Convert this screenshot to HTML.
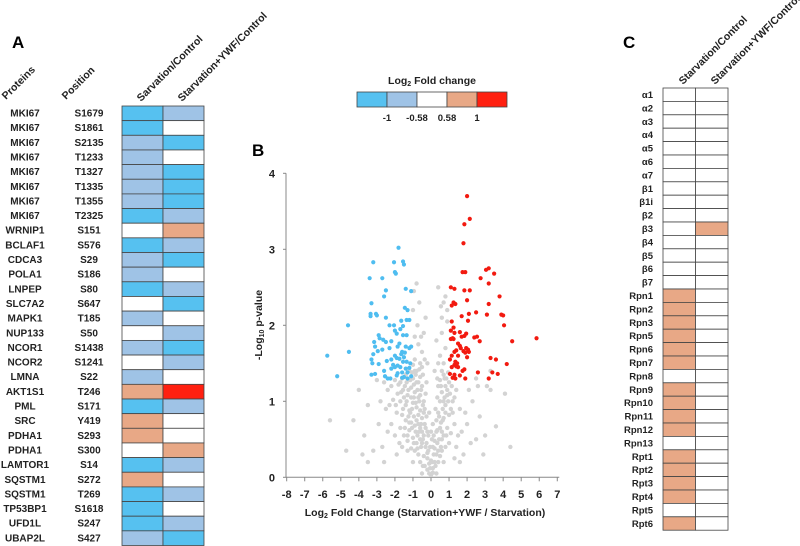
<!DOCTYPE html>
<html><head><meta charset="utf-8">
<style>
body{margin:0;background:#fff;}
svg{display:block;font-family:"Liberation Sans",sans-serif;}
.b{font-weight:bold;}
</style></head>
<body>
<svg id="fig" width="800" height="546" viewBox="0 0 800 546">
  <text x="12" y="48" font-size="17" class="b">A</text>
  <text x="252" y="156" font-size="17" class="b">B</text>
  <text x="623" y="48" font-size="17" class="b">C</text>
  <g id="panelA"></g>
  <g id="legend"></g>
  <g id="volcano"></g>
  <g id="panelC"></g>
</svg>
<script>
const NS="http://www.w3.org/2000/svg";
const COL={D:"#56c1f0",L:"#9fc3e6",W:"#ffffff",S:"#e8a886",R:"#ff2010"};
// Panel A data
const aProteins=["MKI67","MKI67","MKI67","MKI67","MKI67","MKI67","MKI67","MKI67","WRNIP1","BCLAF1","CDCA3","POLA1","LNPEP","SLC7A2","MAPK1","NUP133","NCOR1","NCOR2","LMNA","AKT1S1","PML","SRC","PDHA1","PDHA1","LAMTOR1","SQSTM1","SQSTM1","TP53BP1","UFD1L","UBAP2L"];
const aPositions=["S1679","S1861","S2135","T1233","T1327","T1335","T1355","T2325","S151","S576","S29","S186","S80","S647","T185","S50","S1438","S1241","S22","T246","S171","Y419","S293","S300","S14","S272","T269","S1618","S247","S427"];
const aStarv=["D","D","L","L","L","L","L","D","W","D","L","L","D","W","L","W","L","W","L","S","D","S","S","W","D","S","D","D","D","L"];
const aYwf=["L","W","D","W","D","D","D","L","S","L","D","W","L","D","W","L","D","L","W","R","L","W","W","S","L","W","L","W","L","D"];
// Panel C data
const cSubunits=["α1","α2","α3","α4","α5","α6","α7","β1","β1i","β2","β3","β4","β5","β6","β7","Rpn1","Rpn2","Rpn3","Rpn5","Rpn6","Rpn7","Rpn8","Rpn9","Rpn10","Rpn11","Rpn12","Rpn13","Rpt1","Rpt2","Rpt3","Rpt4","Rpt5","Rpt6"];
const cStarv=["W","W","W","W","W","W","W","W","W","W","W","W","W","W","W","S","S","S","S","S","S","W","S","S","S","S","W","S","S","S","S","W","S"];
const cYwf=["W","W","W","W","W","W","W","W","W","W","S","W","W","W","W","W","W","W","W","W","W","W","W","W","W","W","W","W","W","W","W","W","W"];
// Legend
const legendColors=["D","L","W","S","R"];
const legendTicks=["-1","-0.58","0.58","1"];
// Volcano data [log2FC, -log10 p]
const redPts=[[2.0,3.7],[2.15,3.4],[1.85,3.33],[1.8,3.08],[1.75,2.7],[1.9,2.7],[2.15,2.46],[1.85,2.46],[3.2,2.75],[3.05,2.73],[3.5,2.68],[2.75,2.62],[3.2,2.55],[1.1,2.5],[1.3,2.48],[2.0,2.33],[1.25,2.3],[1.35,2.28],[3.2,2.28],[3.8,2.38],[1.15,2.26],[4.0,2.13],[2.5,2.17],[3.1,2.14],[2.1,2.15],[1.7,2.12],[3.9,2.14],[1.15,2.05],[2.05,2.06],[4.05,2.0],[1.25,1.97],[1.1,1.93],[1.3,1.9],[1.6,1.91],[1.95,1.89],[2.55,1.85],[2.4,1.84],[1.7,1.85],[1.85,1.86],[1.2,1.83],[1.25,1.82],[1.1,1.82],[2.7,1.79],[4.5,1.79],[5.85,1.83],[1.5,1.76],[1.6,1.73],[1.65,1.7],[1.95,1.7],[2.05,1.68],[1.4,1.67],[1.8,1.66],[1.9,1.64],[2.1,1.65],[1.3,1.65],[1.5,1.6],[1.15,1.6],[2.0,1.58],[3.3,1.57],[3.6,1.55],[1.05,1.55],[1.35,1.52],[1.45,1.5],[1.3,1.48],[1.4,1.46],[1.5,1.45],[4.2,1.49],[1.15,1.45],[1.85,1.42],[1.75,1.4],[2.6,1.38],[3.4,1.38],[3.7,1.36],[1.05,1.36],[1.3,1.35],[1.2,1.31],[1.35,1.3],[1.9,1.3],[3.2,1.3],[1.6,1.34]];
const bluePts=[[-1.8,3.02],[-2.7,2.62],[-2.0,2.7],[-1.55,2.84],[-1.5,2.8],[-2.05,2.83],[-3.2,2.83],[-3.4,2.62],[-1.95,2.68],[-2.5,2.46],[-2.6,2.38],[-1.4,2.48],[-1.1,2.45],[-3.3,2.29],[-3.35,2.15],[-3.35,2.12],[-3.05,2.15],[-3.0,2.13],[-1.45,2.23],[-1.3,2.2],[-2.5,2.1],[-1.65,2.06],[-1.35,2.07],[-1.2,2.07],[-2.3,2.0],[-2.05,2.0],[-4.6,2.0],[-2.0,1.93],[-1.7,1.95],[-1.55,1.99],[-1.9,1.89],[-1.55,1.87],[-1.35,1.87],[-2.9,1.87],[-2.85,1.83],[-2.65,1.81],[-2.5,1.78],[-3.15,1.78],[-3.1,1.72],[-2.2,1.79],[-1.75,1.76],[-1.4,1.72],[-1.1,1.72],[-1.2,1.7],[-2.3,1.7],[-1.85,1.72],[-2.7,1.68],[-4.55,1.65],[-2.95,1.66],[-3.2,1.62],[-1.6,1.65],[-1.45,1.64],[-1.65,1.62],[-2.0,1.6],[-1.9,1.57],[-1.5,1.58],[-1.75,1.56],[-5.75,1.6],[-3.3,1.55],[-2.45,1.53],[-2.2,1.55],[-1.55,1.52],[-1.35,1.52],[-1.15,1.5],[-3.25,1.5],[-2.9,1.49],[-2.1,1.48],[-1.85,1.47],[-1.7,1.45],[-1.4,1.43],[-1.2,1.44],[-2.2,1.43],[-2.0,1.45],[-2.6,1.4],[-1.6,1.38],[-1.3,1.38],[-1.85,1.37],[-3.3,1.35],[-3.1,1.36],[-2.55,1.33],[-1.5,1.32],[-1.1,1.33],[-1.3,1.3],[-2.4,1.3],[-2.25,1.3],[-5.2,1.33],[-1.9,1.34],[-1.6,1.31]];
const grayPts=[[-0.2,0.1],[0.1,0.12],[-0.45,0.15],[0.25,0.15],[-0.1,0.18],[0.4,0.2],[-0.6,0.2],[0,0.22],[0,0.03],[-0.1,0.05],[0.1,0.06],[-0.7,0.3],[-0.4,0.28],[-0.9,0.35],[0.3,0.3],[0.5,0.28],[0.6,0.35],[-0.2,0.32],[-1.1,0.38],[0.8,0.4],[-0.55,0.4],[0.2,0.38],[-0.8,0.45],[1.0,0.45],[-1.3,0.48],[-0.6,0.5],[-1.0,0.52],[0.45,0.5],[0.7,0.55],[-0.4,0.55],[-1.5,0.55],[-0.85,0.6],[1.1,0.58],[-1.2,0.62],[0.35,0.62],[-0.3,0.65],[0.9,0.65],[-1.7,0.65],[-2.0,0.55],[1.5,0.55],[-0.7,0.7],[-1.1,0.72],[0.55,0.72],[1.3,0.7],[-1.4,0.75],[-0.5,0.78],[0.7,0.78],[-2.2,0.7],[2.0,0.7],[-0.95,0.8],[-1.6,0.82],[1.0,0.82],[0.4,0.85],[-0.6,0.88],[-1.2,0.88],[-1.9,0.85],[1.6,0.9],[-2.5,0.9],[-0.8,0.92],[0.8,0.95],[-1.4,0.95],[-1.0,0.98],[0.5,1.0],[-0.4,1.0],[-1.7,1.0],[1.2,1.0],[-2.1,1.02],[-2.8,1.0],[2.3,1.0],[-0.7,1.05],[-1.3,1.08],[0.9,1.08],[-0.9,1.12],[0.6,1.12],[-1.55,1.15],[-2.4,1.15],[1.4,1.15],[-1.1,1.18],[-0.5,1.2],[0.8,1.2],[-1.8,1.22],[2.6,1.2],[-1.35,1.25],[-0.8,1.25],[1.0,1.25],[-2.0,1.28],[0.5,1.28],[-1.0,1.3],[-0.6,1.32],[0.7,1.35],[-1.6,1.3],[-3.0,1.28],[3.3,1.15],[4.1,1.1],[-3.7,0.55],[-3.2,0.35],[-2.7,0.4],[-4.3,0.75],[-4.0,1.15],[-5.6,0.75],[-3.5,0.95],[2.5,0.5],[2.9,0.3],[3.6,0.67],[2.2,0.45],[1.8,0.3],[-1.9,0.3],[-2.6,0.2],[1.3,0.25],[-0.8,1.4],[-0.6,1.5],[-0.9,1.55],[-0.5,1.65],[-0.7,1.75],[-0.4,1.9],[-0.9,1.85],[-0.3,2.1],[-1.0,2.2],[-0.8,2.55],[0.3,1.8],[0.5,1.6],[0.7,1.5],[0.6,1.4],[0.8,1.7],[0.9,2.05],[0.6,2.1],[0.8,2.38],[0.4,2.5],[0.9,2.2],[0.2,1.4],[-0.2,1.5],[3.3,1.4],[3.1,1.2],[2.5,1.3],[-0.3,0.4],[-0.5,0.45],[0.2,0.48],[-0.15,0.55],[0.1,0.7],[-0.25,0.8],[-0.65,1.0],[-0.45,0.95],[-0.9,1.4],[-1.2,1.4],[0.3,0.6],[0.6,0.6],[-0.75,0.55],[-0.35,0.7],[-0.6,0.65],[-1.25,0.8],[-0.85,1.35],[-1.45,1.2],[-1.1,1.05],[0.65,0.9],[0.9,1.15],[0.4,1.2],[0.75,1.05],[1.1,0.9],[-1.5,1.05],[-0.55,1.15],[-0.2,0.25],[0.15,0.3],[-0.05,0.4],[0.05,0.5],[-0.4,0.85],[-0.7,0.82],[-1.05,0.65],[-1.3,0.55],[0.55,0.4],[0.85,0.55],[1.2,0.85],[-2.3,0.95],[-1.75,0.45],[1.7,0.6],[-0.95,1.22],[-1.15,1.28],[-0.75,1.15],[-1.05,0.9],[-0.5,0.6],[0.25,0.9],[0.35,1.05],[0.75,1.3],[-0.3,1.1],[-1.65,1.12],[-0.35,0.15],[0.2,0.2],[-0.25,0.45],[-0.65,0.6],[-0.9,0.68],[-1.15,0.85],[-1.35,1.0],[-1.25,1.15],[-0.95,1.05],[-0.8,0.75],[-0.55,0.7],[-0.45,0.5],[-0.15,0.35],[0.35,0.45],[0.5,0.65],[0.65,0.75],[0.8,0.85],[0.95,1.0],[1.05,1.1],[0.85,1.3],[0.55,1.2],[-1.4,1.35],[-1.7,1.25],[-1.05,1.38],[-0.7,1.25],[-0.45,1.35],[-1.55,0.9],[-0.35,0.9],[-0.2,0.6],[0.1,0.4],[0.05,0.2],[-0.05,0.12],[0.15,0.55],[0.45,0.8],[0.7,1.0],[1.15,1.2],[1.3,1.05],[-1.85,1.1],[-1.95,0.95],[-2.2,1.2],[-0.6,1.08],[-0.85,0.98],[-1.2,0.72],[-0.95,0.45],[-1.45,0.65],[0.3,0.75],[0.6,0.5],[0.4,0.35],[-0.75,0.38],[-0.65,1.42],[-1.0,1.48],[-0.5,1.45],[0.35,1.3],[0.95,1.38],[-0.25,1.25],[-1.3,0.35],[-2.4,0.6],[-1.6,0.4],[1.4,0.4],[1.9,0.85],[2.1,1.15],[-2.6,1.25],[-0.1,0.85],[0.0,0.6],[-0.35,1.55],[0.4,1.5],[-0.55,1.85],[0.6,1.9],[-0.75,2.0],[0.7,2.3],[-0.65,2.3],[0.55,2.25],[-0.95,2.45],[-3.5,0.2],[-2.9,0.7],[2.7,0.8],[3.0,0.55],[4.4,0.4],[-4.7,0.35],[-3.8,0.3],[1.6,0.2],[-1.0,0.2],[0.7,0.2],[-0.5,0.05],[0.3,0.05]];
const xTicks=[-8,-7,-6,-5,-4,-3,-2,-1,0,1,2,3,4,5,6,7];
const yTicks=[0,1,2,3,4];

function el(tag,attrs,parent,text){const e=document.createElementNS(NS,tag);for(const k in attrs)e.setAttribute(k,attrs[k]);if(text!==undefined)e.textContent=text;parent.appendChild(e);return e;}

// Panel A
const A=document.getElementById('panelA');
const aTop=106, aRow=14.65, aX0=122, aW=41;
[["Proteins",6,100],["Position",66,100],["Sarvation/Control",141,102],["Starvation+YWF/Control",182,102]].forEach((h,i)=>{
  const t=el('text',{x:h[1],y:h[2],'font-size':10.5,class:'b',transform:`rotate(-45 ${h[1]} ${h[2]})`,fill:'#222'},A,h[0]);
  
  
});
aProteins.forEach((p,i)=>{
  const y=aTop+i*aRow;
  const t1=el('text',{x:25,y:y+10.5,'font-size':10,class:'b','text-anchor':'middle',fill:'#222'},A,p);
  
  
  const t2=el('text',{x:89,y:y+10.5,'font-size':10,class:'b','text-anchor':'middle',fill:'#222'},A,aPositions[i]);
  
  
  const r1=el('rect',{x:aX0,y:y,width:aW,height:aRow,fill:COL[aStarv[i]],stroke:'#444','stroke-width':0.8},A);
  
  
  const r2=el('rect',{x:aX0+aW,y:y,width:aW,height:aRow,fill:COL[aYwf[i]],stroke:'#444','stroke-width':0.8},A);
  
  
});

// Legend
const L=document.getElementById('legend');
const lt=el('text',{x:432,y:84,'font-size':10.5,class:'b','text-anchor':'middle',fill:'#222'},L);


lt.innerHTML='Log<tspan font-size="7" dy="2">2</tspan><tspan dy="-2"> Fold change</tspan>';
legendColors.forEach((c,i)=>{
  const r=el('rect',{x:357+i*30,y:92,width:30,height:15,fill:COL[c],stroke:'#444','stroke-width':0.8},L);
  
  
});
legendTicks.forEach((t,i)=>{
  const tx=el('text',{x:387+i*30,y:121,'font-size':9.5,class:'b','text-anchor':'middle',fill:'#222'},L,t);
  
  
});

// Volcano
const V=document.getElementById('volcano');
const xS=v=>431+v*18.04, yS=p=>477.3-p*76;
const ax=el('line',{x1:286,y1:yS(4),x2:286,y2:yS(0),stroke:'#888','stroke-width':1},V);


const axx=el('line',{x1:286,y1:yS(0),x2:xS(7)+2,y2:yS(0),stroke:'#888','stroke-width':1},V);


yTicks.forEach(t=>{
  const tk=el('line',{x1:283,x2:286,y1:yS(t),y2:yS(t),stroke:'#888'},V);
  
  
  const tl=el('text',{x:275,y:yS(t)+4,'font-size':11,class:'b','text-anchor':'end',fill:'#222'},V,String(t));
  
  
});
xTicks.forEach(t=>{
  const tk=el('line',{x1:xS(t),x2:xS(t),y1:yS(0),y2:yS(0)+4,stroke:'#888'},V);
  
  
  const tl=el('text',{x:xS(t),y:498,'font-size':11,class:'b','text-anchor':'middle',fill:'#222'},V,String(t));
  
  
});
const xl=el('text',{x:425,y:516,'font-size':10.5,class:'b','text-anchor':'middle',fill:'#222'},V);


xl.innerHTML='Log<tspan font-size="7" dy="2">2</tspan><tspan dy="-2"> Fold Change (Starvation+YWF / Starvation)</tspan>';
const yl=el('text',{x:262,y:325,'font-size':10.5,class:'b','text-anchor':'middle',fill:'#222',transform:'rotate(-90 262 325)'},V);


yl.innerHTML='-Log<tspan font-size="7" dy="2">10</tspan><tspan dy="-2"> p-value</tspan>';
grayPts.forEach(p=>{
  const c=el('circle',{cx:xS(p[0]),cy:yS(p[1]),r:2.2,fill:'#d3d3d3'},V);
  
  
});
bluePts.forEach(p=>{
  const c=el('circle',{cx:xS(p[0]),cy:yS(p[1]),r:2.1,fill:'#4fbdf0'},V);
  
  
});
redPts.forEach(p=>{
  const c=el('circle',{cx:xS(p[0]),cy:yS(p[1]),r:2.1,fill:'#f21a10'},V);
  
  
});

// Panel C
const C=document.getElementById('panelC');
const cTop=88, cRow=13.4, cX0=663, cW=32.5;
[["Starvation/Control",683,85],["Starvation+YWF/Control",715,85]].forEach(h=>{
  const t=el('text',{x:h[1],y:h[2],'font-size':10.5,class:'b','transform':`rotate(-45 ${h[1]} ${h[2]})`,fill:'#222'},C,h[0]);
  
  
});
cSubunits.forEach((s,i)=>{
  const y=cTop+i*cRow;
  const t=el('text',{x:653,y:y+10,'font-size':9.5,class:'b','text-anchor':'end',fill:'#222'},C,s);
  
  
  const r1=el('rect',{x:cX0,y:y,width:cW,height:cRow,fill:COL[cStarv[i]],stroke:'#444','stroke-width':0.8},C);
  
  
  const r2=el('rect',{x:cX0+cW,y:y,width:cW,height:cRow,fill:COL[cYwf[i]],stroke:'#444','stroke-width':0.8},C);
  
  
});
</script>
</body></html>
